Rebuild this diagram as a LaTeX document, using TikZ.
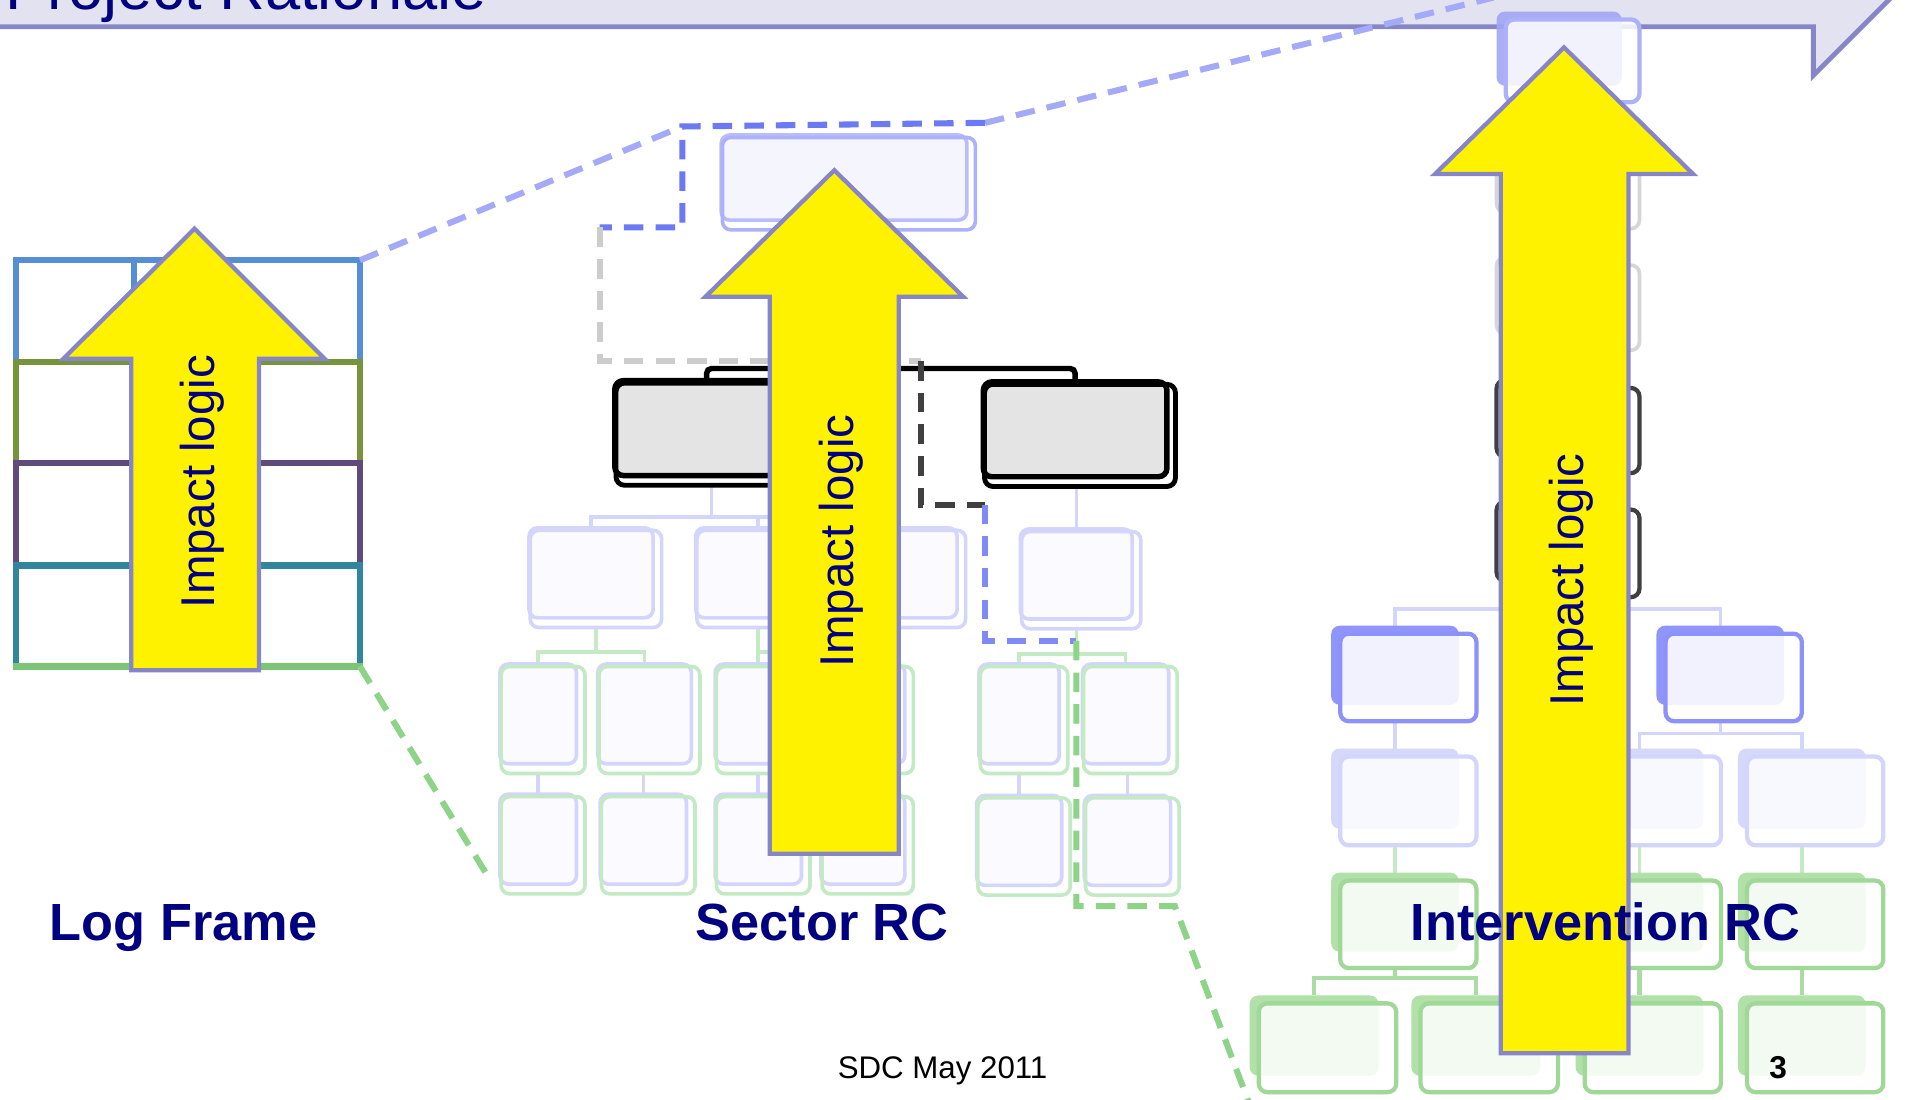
\documentclass[tikz,border=0pt]{standalone}
\usepackage{fontspec}
\setmainfont{Liberation Sans}
\usetikzlibrary{calc,backgrounds}
\definecolor{hdrfill}{HTML}{E2E2F0}
\definecolor{hdrline}{HTML}{8585C8}
\definecolor{navy}{HTML}{000080}
\definecolor{arrline}{HTML}{8585C8}
\definecolor{lfblue}{HTML}{558ED5}
\definecolor{lfolive}{HTML}{77933C}
\definecolor{lfpurple}{HTML}{604A7B}
\definecolor{lfteal}{HTML}{31859C}
\definecolor{lfgreen}{HTML}{7CC576}
\definecolor{lav}{HTML}{D3D5FB}
\definecolor{lavfill}{HTML}{FAFAFF}
\definecolor{lavback}{HTML}{D5D7FB}
\definecolor{peri}{HTML}{8C92FA}
\definecolor{periback}{HTML}{8F96FB}
\definecolor{topback}{HTML}{A1A6F4}
\definecolor{topline}{HTML}{ADB1F9}
\definecolor{stopfill}{HTML}{F4F5FD}
\definecolor{greyb}{HTML}{D6D6D6}
\definecolor{darkb}{HTML}{404040}
\definecolor{boxgrey}{HTML}{E4E4E4}
\definecolor{grnback}{HTML}{B1E0A8}
\definecolor{grnline}{HTML}{A0D897}
\definecolor{grnlight}{HTML}{C3EAC4}
\definecolor{grnconn}{HTML}{A9DDA1}
\definecolor{grnconnl}{HTML}{C5EBC5}
\definecolor{dblue}{HTML}{6B79F2}
\definecolor{dblue2}{HTML}{7F8AF5}
\definecolor{dperi}{HTML}{A5AAF8}
\definecolor{dgrey}{HTML}{CCCCCC}
\definecolor{dgreen}{HTML}{8DD489}

\tikzset{
  bx/.style={rectangle, rounded corners=7pt, inner sep=0pt, outer sep=0pt},
  stopB/.style={bx, fill=stopfill, draw=topline!85, line width=3pt},
  stopF/.style={bx, draw=topline, line width=3pt},
  blkB/.style={bx, fill=boxgrey, draw=black, line width=4.5pt},
  blkF/.style={bx, draw=black, line width=4pt},
  s3B/.style={bx, fill=lavfill, draw=lav, line width=3pt},
  s3F/.style={bx, draw=lav, line width=3pt},
  s4B/.style={bx, fill=lavfill, draw=lav, line width=3pt},
  s4F/.style={bx, draw=grnlight, line width=3pt},
  itopB/.style={bx, fill=topback, fill opacity=0.9},
  itopF/.style={bx, draw=topline, line width=3.5pt, fill=white, fill opacity=0.85},
  igB/.style={bx, draw=greyb, line width=3pt},
  igF/.style={bx, draw=greyb, line width=3pt},
  idB/.style={bx, draw=darkb, line width=3.5pt, fill=boxgrey},
  idF/.style={bx, draw=darkb, line width=3.5pt},
  i5B/.style={bx, fill=periback},
  i5F/.style={bx, draw=peri, line width=3.5pt, fill=white, fill opacity=0.88},
  i6B/.style={bx, fill=lavback},
  i6F/.style={bx, draw=lav, line width=3.5pt, fill=white, fill opacity=0.85},
  i7B/.style={bx, fill=grnback},
  i7F/.style={bx, draw=grnline, line width=3.5pt, fill=white, fill opacity=0.85},
  lavc/.style={draw=lav, line width=3pt},
  grc/.style={draw=grnconnl, line width=3pt},
  igrc/.style={draw=grnconn, line width=3.5pt},
  blkc/.style={draw=black, line width=4.5pt, rounded corners=4pt},
  dsh/.style={line width=5pt, dash pattern=on 16pt off 10pt},
  arr/.style={fill=yellow, draw=arrline, line width=3.5pt, line join=miter},
  impt/.style={rotate=90, anchor=base, text=navy, font=\fontsize{39}{45}\selectfont, inner sep=0pt},
  lbl/.style={text=navy, font=\fontsize{43}{50}\selectfont\bfseries, anchor=base, inner sep=0pt},
}

% stacked box: name, cx, cy, w, h, back style, front style
\newcommand\mybox[7]{%
  \node[#6, minimum width={#4-\bds}, minimum height={#5-\bds}] (#1b) at ({#2-\bdx},{#3-\bdy}) {};
  \node[#7, minimum width={#4}, minimum height={#5}] (#1) at (#2,#3) {};
}

\begin{document}
\begin{tikzpicture}[x=1pt,y=-1pt]
\useasboundingbox (0,0) rectangle (1568,904);
\clip (0,0) rectangle (1568,904);
\begin{pgfonlayer}{background}
  \fill[white] (0,0) rectangle (1568,904);
\end{pgfonlayer}

% header banner
\fill[hdrfill] (-5,-20) -- (1573,-20) -- (1491,62) -- (1491,22) -- (-5,22) -- cycle;
\draw[hdrline, line width=4pt, line join=miter] (-5,22) -- (1491,22) -- (1491,62) -- (1575,-22);
\node[anchor=base west, text=navy, font=\fontsize{52}{60}\selectfont, inner sep=0pt] (title) at (4,8) {Project Rationale};

% Log Frame grid
\foreach \yt/\yb/\c in {214/297.5/lfblue, 297.5/381/lfolive, 381/465/lfpurple, 465/548/lfteal} {
  \draw[color=\c, line width=5pt, line join=miter, line cap=rect] (13,\yb) -- (13,\yt) -- (296,\yt) -- (296,\yb);
  \draw[color=\c, line width=5pt] (110,\yt) -- (110,\yb);
}
\draw[lfgreen, line width=5pt, line cap=rect] (13,548) -- (296,548);
\coordinate (lfTR) at (296,214);
\coordinate (lfBR) at (296,548);

% ---------------- Sector RC ----------------
\def\bdx{4}\def\bdy{5}\def\bds{6}
\mybox{T}{698}{151}{208}{76}{stopB}{stopF}
\mybox{B1}{585}{357}{157}{84}{blkB}{blkF}
\mybox{B2}{888}{358}{157}{84}{blkB}{blkF}
\mybox{S1}{490}{476}{108}{80}{s3B}{s3F}
\mybox{S2}{627}{476}{108}{80}{s3B}{s3F}
\mybox{S3}{740}{476}{108}{80}{s3B}{s3F}
\mybox{S4}{889}{477}{98}{80}{s3B}{s3F}
\mybox{a1}{446.5}{592}{69}{88}{s4B}{s4F}
\mybox{a2}{534}{592}{83}{88}{s4B}{s4F}
\mybox{a3}{627.5}{592}{77}{88}{s4B}{s4F}
\mybox{a4}{713.5}{592}{75}{88}{s4B}{s4F}
\mybox{a5}{842}{592}{72}{88}{s4B}{s4F}
\mybox{a6}{929.5}{592}{77}{88}{s4B}{s4F}
\mybox{b1}{446.5}{695}{69}{80}{s4B}{s4F}
\mybox{b2}{533}{695}{77}{80}{s4B}{s4F}
\mybox{b3}{627.5}{695}{77}{80}{s4B}{s4F}
\mybox{b4}{713.5}{695}{75}{80}{s4B}{s4F}
\mybox{b5}{842}{696}{76}{80}{s4B}{s4F}
\mybox{b6}{931}{696}{77}{80}{s4B}{s4F}

% ---------------- Intervention RC ----------------
\def\bdx{11}\def\bdy{10}\def\bds{7}
\mybox{It}{1293}{50}{110}{68}{itopB}{itopF}
\mybox{Ig1}{1293}{154}{110}{68}{igB}{igF}
\mybox{Ig2}{1293}{253}{110}{70}{igB}{igF}
\mybox{Id1}{1293}{354}{110}{70}{idB}{idF}
\mybox{Id2}{1293}{455}{110}{72}{idB}{idF}
\mybox{P1}{1158}{557}{112}{72}{i5B}{i5F}
\mybox{P2}{1425.5}{557}{112}{72}{i5B}{i5F}
\mybox{Q1}{1158}{658.5}{112}{73}{i6B}{i6F}
\mybox{Q3}{1359}{658.5}{112}{73}{i6B}{i6F}
\mybox{Q4}{1492.5}{658.5}{112}{73}{i6B}{i6F}
\mybox{G1}{1158}{760}{112}{72}{i7B}{i7F}
\mybox{G3}{1359}{760}{112}{72}{i7B}{i7F}
\mybox{G4}{1492.5}{760}{112}{72}{i7B}{i7F}
\mybox{H1}{1091.5}{861.5}{113}{73}{i7B}{i7F}
\mybox{H2}{1224.5}{861.5}{113}{73}{i7B}{i7F}
\mybox{H3}{1359}{861.5}{112}{73}{i7B}{i7F}
\mybox{H4}{1492.5}{861.5}{112}{73}{i7B}{i7F}

% connectors (behind boxes)
\begin{pgfonlayer}{background}
  % sector
  \draw[blkc] (T.south) -- ++(0,114) -| (B1b.north);
  \draw[blkc] (T.south) -- ++(0,114) -| (B2b.north);
  \foreach \c in {S1,S2,S3} { \draw[lavc] (B1.south) -- ++(0,26) -| (\c b.north); }
  \draw[lavc] (S4b.north |- B2.south) -- (S4b.north);
  \draw[grc] (S1.south) -- ++(0,20) -| (a1b.north);
  \draw[grc] (S1.south) -- ++(0,20) -| (a2b.north);
  \draw[grc] (S2b.south |- S2.south) -- ++(0,20) -| (a3b.north);
  \draw[grc] (S2b.south |- S2.south) -- ++(0,20) -| (a4b.north);
  \draw[grc] (S4b.south |- S4.south) -- ++(0,21) -| (a5b.north);
  \draw[grc] (S4b.south |- S4.south) -- ++(0,21) -| (a6b.north);
  \foreach \p/\c in {a1/b1,a2/b2,a3/b3,a4/b4,a5/b5,a6/b6} { \draw[lavc] (\c b.north |- \p.south) -- (\c b.north); }
  % intervention
  \draw[lavc] (Id2.south) -- ++(0,10) -| (P1b.north);
  \draw[lavc] (Id2.south) -- ++(0,10) -| (P2b.north);
  \draw[lavc] (Q1b.north |- P1.south) -- (Q1b.north);
  \draw[lavc] (P2b.south |- P2.south) -- ++(0,10) -| (Q3b.north);
  \draw[lavc] (P2b.south |- P2.south) -- ++(0,10) -| (Q4b.north);
  \foreach \p/\c in {Q1/G1,Q3/G3,Q4/G4} { \draw[grc] (\c b.north |- \p.south) -- (\c b.north); }
  \draw[igrc] (G1b.south |- G1.south) -- ++(0,8) -| (H1b.north);
  \draw[igrc] (G1b.south |- G1.south) -- ++(0,8) -| (H2b.north);
  \draw[igrc] (H3b.north |- G3.south) -- (H3b.north);
  \draw[igrc] (H4b.north |- G4.south) -- (H4b.north);
\end{pgfonlayer}

% dashed outline and zoom lines
\coordinate (d0) at (810,101);
\coordinate (d1) at (561,104);
\coordinate (d2) at (561,187);
\coordinate (d3) at (493,187);
\coordinate (d4) at (493,297);
\coordinate (d5) at (757,297);
\coordinate (d6) at (757,415);
\coordinate (d7) at (810,415);
\coordinate (d8) at (810,527);
\coordinate (d9) at (885,527);
\coordinate (d10) at (885,745);
\coordinate (d11) at (966,745);
\coordinate (d12) at (1030,915);
\coordinate (zend) at (1228,-2);
\coordinate (zend2) at (402,722);
\draw[dsh, dperi] (lfTR) -- (d1);
\draw[dsh, dperi] (d0) -- (zend);
\draw[dsh, dblue] (d0) -- (d1) -- (d2) -- (d3);
\draw[dsh, dgrey] (d3) -- (d4) -- (d5);
\draw[dsh, darkb] (d5) -- (d6) -- (d7);
\draw[dsh, dblue2] (d7) -- (d8) -- (d9);
\draw[dsh, dgreen] (d9) -- (d10) -- (d11) -- (d12);
\draw[dsh, dgreen] (lfBR) -- (zend2);

% impact logic arrows
\draw[arr] (108,551) -- (108,295) -- (52,295) -- (160,188) -- (267,295) -- (213,295) -- (213,551) -- cycle;
\draw[arr] (633,702) -- (633,244) -- (580,244) -- (686,140) -- (792,244) -- (739,244) -- (739,702) -- cycle;
\draw[arr] (1234,866) -- (1234,143) -- (1180,143) -- (1286,39) -- (1392,143) -- (1339,143) -- (1339,866) -- cycle;
\node[impt] (il1) at (176,396) {Impact logic};
\node[impt] (il2) at (701.5,445) {Impact logic};
\node[impt] (il3) at (1302,477) {Impact logic};

% labels
\node[lbl] (lf) at (151,773) {Log Frame};
\node[lbl] (src) at (676,773) {Sector RC};
\node[lbl] (irc) at (1320,773) {Intervention RC};
\node[anchor=base, font=\fontsize{25.7}{30}\selectfont, inner sep=0pt] (ft) at (775,887) {SDC May 2011};
\node[anchor=base, font=\fontsize{26}{30}\selectfont\bfseries, inner sep=0pt] (pg) at (1462,887) {3};
\end{tikzpicture}
\end{document}
